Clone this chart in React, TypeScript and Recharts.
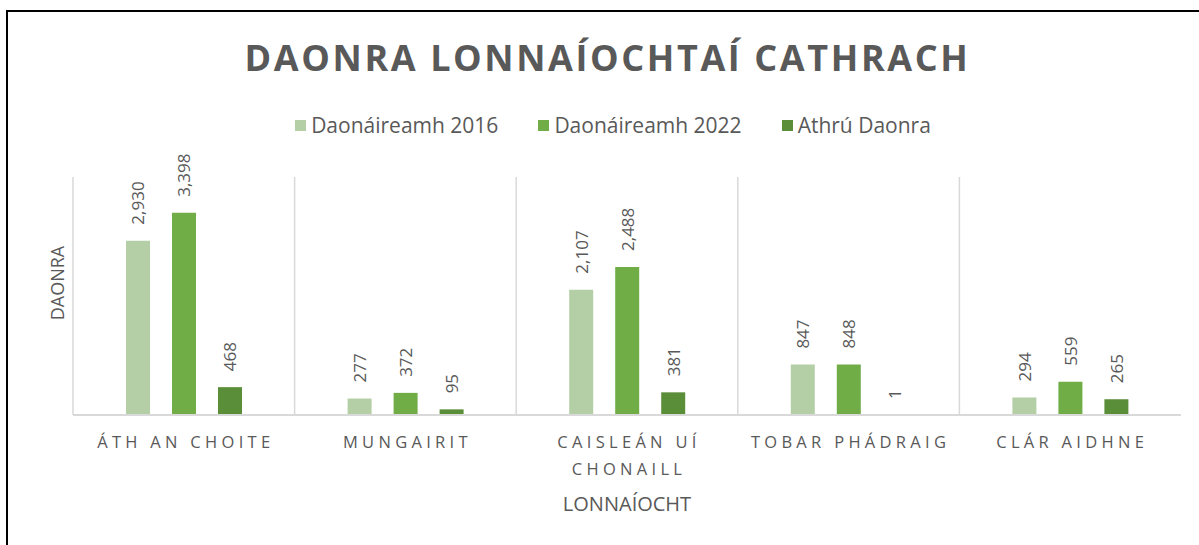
import React from 'react';
import { BarChart, Bar, XAxis, YAxis, CartesianGrid, LabelList } from 'recharts';

const categories = ['ÁTH AN CHOITE', 'MUNGAIRIT', 'CAISLEÁN UÍ\nCHONAILL', 'TOBAR PHÁDRAIG', 'CLÁR AIDHNE'];
const census2016 = [2930, 277, 2107, 847, 294];
const census2022 = [3398, 372, 2488, 848, 559];
const popChange = [468, 95, 381, 1, 265];
const seriesNames = ['Daonáireamh 2016', 'Daonáireamh 2022', 'Athrú Daonra'];
const colors = ['#B4CFA6', '#70AD47', '#5A8E38'];
const yDomain = [0, 4000];

const data = categories.map((c, i) => ({
  name: c,
  s2016: census2016[i],
  s2022: census2022[i],
  change: popChange[i],
}));

const FONT = '"Open Sans", sans-serif';
const GREY = '#595959';

const ValueLabel = (props: any) => {
  const { x, y, width, value } = props;
  const cx = x + width / 2;
  const cy = y - 16;
  return (
    <text
      x={cx}
      y={cy}
      transform={`rotate(-90 ${cx} ${cy})`}
      textAnchor="start"
      dominantBaseline="central"
      fill={GREY}
      fontFamily={FONT}
      fontSize={17}
    >
      {Number(value).toLocaleString('en-US')}
    </text>
  );
};

const CategoryTick = (props: any) => {
  const { x, y, payload } = props;
  const lines = String(payload.value).split('\n');
  return (
    <g>
      {lines.map((l: string, i: number) => (
        <text
          key={i}
          x={x + 2}
          y={y + 25 + i * 27}
          textAnchor="middle"
          fill={GREY}
          fontFamily={FONT}
          fontSize={16.5}
          style={{ letterSpacing: '4.3px' }}
        >
          {l}
        </text>
      ))}
    </g>
  );
};

const LegendBlock = () => (
  <div style={{ position: 'absolute', left: 0, top: 111, width: 1226, display: 'flex', justifyContent: 'center', fontFamily: FONT, fontSize: 21, color: GREY }}>
    {seriesNames.map((n, i) => (
      <div key={n} style={{ display: 'flex', alignItems: 'center', marginRight: i < 2 ? 40 : 0 }}>
        <div style={{ width: 11, height: 11, background: colors[i], marginRight: 5 }} />
        <span>{n}</span>
      </div>
    ))}
  </div>
);

export default function App() {
  return (
    <div style={{ position: 'fixed', left: 0, top: 0, width: 1199, height: 545, overflow: 'hidden', background: '#fff' }}>
      <div style={{ position: 'absolute', left: 6, top: 10, width: 1400, height: 700, borderLeft: '2px solid #000', borderTop: '2px solid #000' }} />
      <div style={{ position: 'absolute', left: 0, top: 33, width: 1215, textAlign: 'center', fontFamily: FONT, fontWeight: 700, fontSize: 36, letterSpacing: 2.6, color: GREY }}>
        DAONRA LONNAÍOCHTAÍ CATHRACH
      </div>
      <LegendBlock />
      <div style={{ position: 'absolute', left: 57, top: 283, transform: 'translate(-50%, -50%) rotate(-90deg)', fontFamily: FONT, fontSize: 18, color: GREY, whiteSpace: 'nowrap' }}>
        DAONRA
      </div>
      <div style={{ position: 'absolute', left: 627, top: 503, transform: 'translate(-50%, -50%)', fontFamily: FONT, fontSize: 20, color: GREY, whiteSpace: 'nowrap' }}>
        LONNAÍOCHT
      </div>
      <div style={{ position: 'absolute', left: 0, top: 0 }}>
        <BarChart
          width={1199}
          height={545}
          data={data}
          margin={{ top: 177, right: 18, bottom: 100, left: 73 }}
          barSize={24}
          barGap={22}
        >
          <CartesianGrid
            horizontal={false}
            stroke="#D9D9D9"
            strokeWidth={1.5}
            verticalCoordinatesGenerator={({ offset }: any) =>
              categories.map((_, i) => offset.left + (i * offset.width) / categories.length)
            }
          />
          <XAxis
            dataKey="name"
            height={30}
            tickLine={false}
            axisLine={{ stroke: '#D9D9D9', strokeWidth: 2 }}
            tick={<CategoryTick />}
            interval={0}
          />
          <YAxis hide domain={yDomain} />
          <Bar dataKey="s2016" name={seriesNames[0]} fill={colors[0]} isAnimationActive={false}>
            <LabelList dataKey="s2016" content={<ValueLabel />} />
          </Bar>
          <Bar dataKey="s2022" name={seriesNames[1]} fill={colors[1]} isAnimationActive={false}>
            <LabelList dataKey="s2022" content={<ValueLabel />} />
          </Bar>
          <Bar dataKey="change" name={seriesNames[2]} fill={colors[2]} isAnimationActive={false}>
            <LabelList dataKey="change" content={<ValueLabel />} />
          </Bar>
        </BarChart>
      </div>
    </div>
  );
}
